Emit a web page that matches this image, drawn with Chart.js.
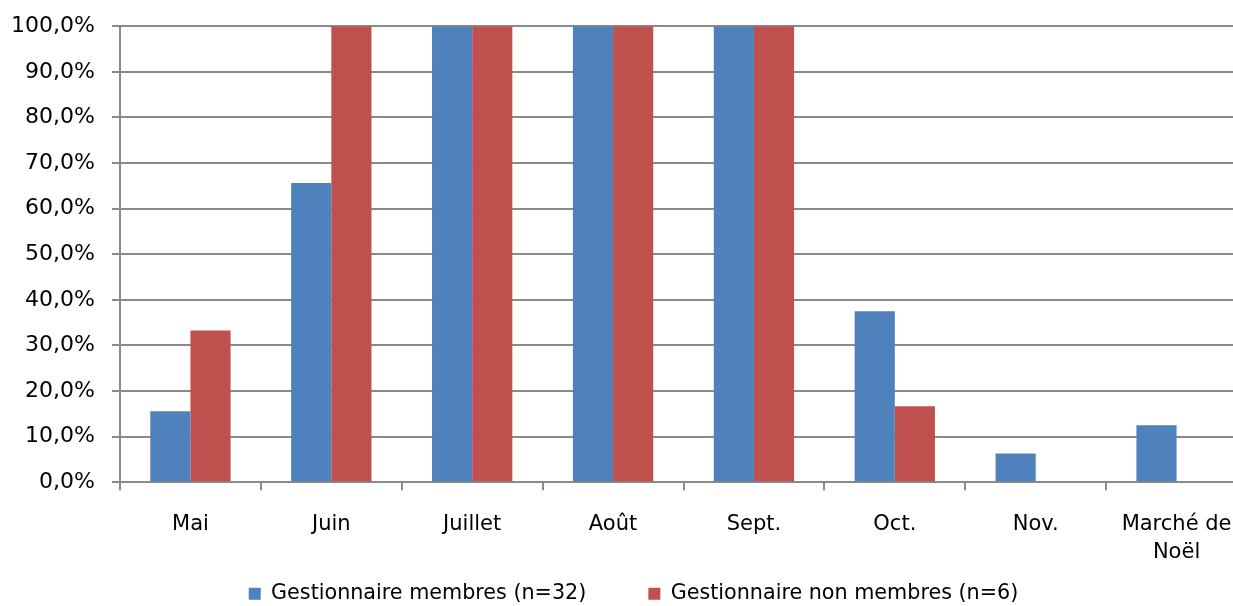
<!DOCTYPE html>
<html lang="fr">
<head>
<meta charset="utf-8">
<script src="https://cdn.jsdelivr.net/npm/chart.js@4.4.1/dist/chart.umd.min.js"></script>
<style>
  html, body { margin: 0; padding: 0; background: #fff; overflow: hidden; }
  #wrap { position: relative; width: 1266px; height: 618px; margin-top: -4px; }
</style>
</head>
<body>
<div id="wrap"><canvas id="chart"></canvas></div>
<script>
// Part des gestionnaires actifs par mois
const categories = ['Mai', 'Juin', 'Juillet', 'Août', 'Sept.', 'Oct.', 'Nov.', ['Marché de', 'Noël']];
const membres = [15.6, 65.6, 100, 100, 100, 37.5, 6.3, 12.5];
const nonMembres = [33.3, 100, 100, 100, 100, 16.7, 0, 0];
const yTickLabels = ['0,0%', '10,0%', '20,0%', '30,0%', '40,0%', '50,0%', '60,0%', '70,0%', '80,0%', '90,0%', '100,0%'];
const seriesNames = ['Gestionnaire membres (n=32)', 'Gestionnaire non membres (n=6)'];

const FONT = "'DejaVu Sans', sans-serif";
const GRID = '#8a8a8a';

// Let the axis labels run outside their axis boxes (no clipping)
const unclipAxisLabels = {
  id: 'unclipAxisLabels',
  afterLayout(chart) {
    chart.scales.x._computeLabelArea = () => undefined;
    chart.scales.y._computeLabelArea = () => undefined;
  }
};

new Chart(document.getElementById('chart'), {
  type: 'bar',
  data: {
    labels: categories,
    datasets: [
      { label: seriesNames[0], data: membres, backgroundColor: '#4f81bd', borderWidth: 0 },
      { label: seriesNames[1], data: nonMembres, backgroundColor: '#c0504d', borderWidth: 0 }
    ]
  },
  plugins: [unclipAxisLabels],
  options: {
    responsive: true,
    maintainAspectRatio: false,
    animation: false,
    datasets: { bar: { categoryPercentage: 0.57, barPercentage: 1.0 } },
    layout: { padding: { top: 6, right: 19, bottom: 0, left: 20 } },
    plugins: {
      tooltip: { enabled: false },
      legend: {
        position: 'bottom',
        labels: {
          font: { family: FONT, size: 20.7 },
          color: '#000',
          boxWidth: 12,
          boxHeight: 12,
          padding: 62
        }
      }
    },
    scales: {
      x: {
        grid: { drawOnChartArea: false, drawTicks: true, tickLength: 8, color: GRID, lineWidth: 2, offset: true },
        border: { display: true, color: GRID, width: 2 },
        ticks: { font: { family: FONT, size: 21, lineHeight: 1.3 }, color: '#000', padding: 21, maxRotation: 0, autoSkip: false },
        afterFit: (s) => { s.height = 39; }
      },
      y: {
        min: 0,
        max: 100,
        grid: { drawOnChartArea: true, drawTicks: true, tickLength: 8, color: GRID, lineWidth: 2 },
        border: { display: true, color: GRID, width: 2 },
        ticks: {
          stepSize: 10,
          font: { family: FONT, size: 22 },
          color: '#000',
          padding: 17,
          callback: (v, i) => yTickLabels[i]
        },
        afterFit: (s) => { s.width = 100; }
      }
    }
  }
});
</script>
</body>
</html>
